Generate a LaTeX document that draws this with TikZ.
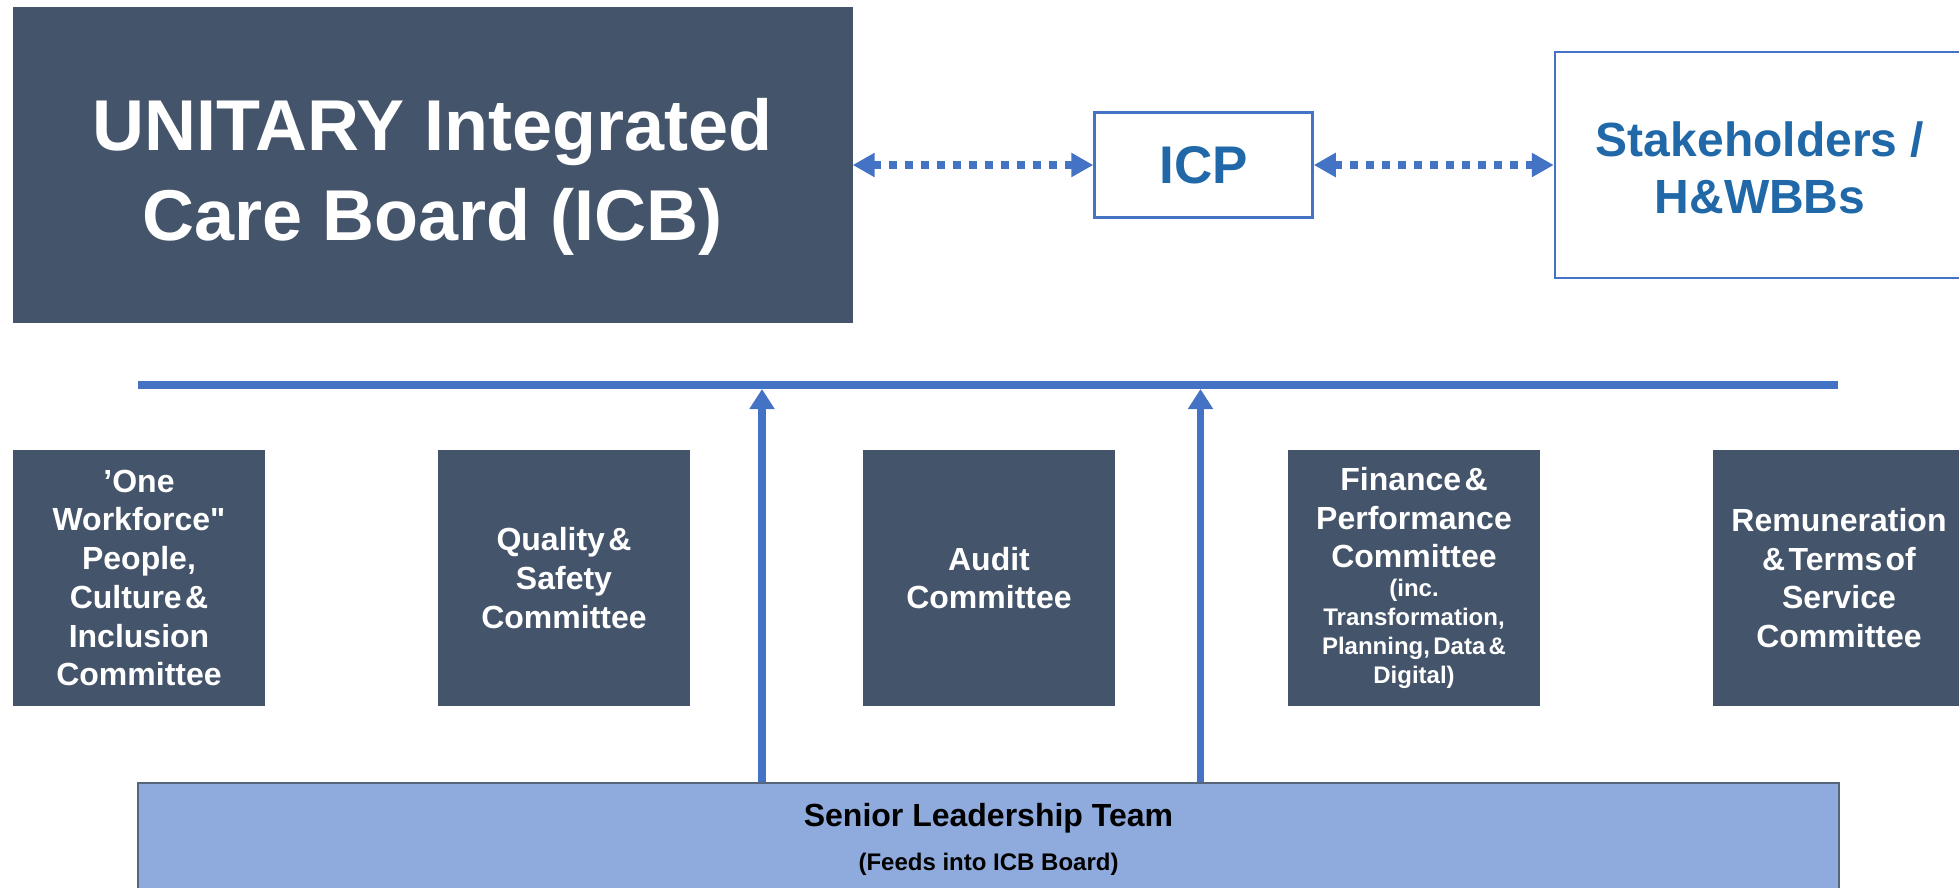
\documentclass[tikz,border=0pt]{standalone}
\usepackage{fontspec}
\setmainfont{Liberation Sans}[Ligatures=TeXOff]
\usetikzlibrary{arrows.meta}
\definecolor{boxdark}{HTML}{44546A}
\definecolor{lineblue}{HTML}{4472C4}
\definecolor{icptext}{HTML}{2068A8}
\definecolor{sltfill}{HTML}{8FAADC}
\definecolor{sltedge}{HTML}{56657A}
\tikzset{
  darkbox/.style={fill=boxdark, draw=none, inner sep=0pt, text=white, align=center},
  combox/.style={darkbox, minimum width=252pt, minimum height=256pt, text width=244pt},
  bluebox/.style={draw=lineblue, line width=2.5pt, fill=white, inner sep=0pt, text=icptext, align=center},
  dotarrow/.style={draw=lineblue, line width=7.6pt, dash pattern=on 8pt off 8pt, {Triangle[length=22pt,width=23pt]}-{Triangle[length=22pt,width=23pt]}},
  uparrow/.style={draw=lineblue, line width=7.3pt, -{Triangle[length=20pt,width=24pt]}},
  bar/.style={draw=lineblue, line width=8pt}
}
\begin{document}
\begin{tikzpicture}[x=1pt,y=-1pt]
\useasboundingbox (0,0) rectangle (1959,887);
% ICB
\node[darkbox, minimum width=840pt, minimum height=316pt] (icb) at (432.5,165) {};
\node[text=white, align=center, inner sep=0pt, font=\bfseries\fontsize{72}{90}\selectfont] (icbtext) at (432.5,177)
  {UNITARY Integrated\\Care Board (ICB)};
% ICP
\node[bluebox, minimum width=218pt, minimum height=105pt, font=\bfseries\fontsize{53}{60}\selectfont] (icp) at (1203.5,165)
  {ICP};
% Stakeholders
\node[bluebox, minimum width=410pt, minimum height=226pt] (stake) at (1760,165) {};
\node[text=icptext, align=center, inner sep=0pt, font=\bfseries\fontsize{48}{57}\selectfont] (staketext) at (1760,168)
  {Stakeholders /\\H\&WBBs};
% dotted arrows
\draw[dotarrow] (icb.east) -- (icp.west);
\draw[dotarrow] (icp.east) -- (stake.west);
% committees
\node[combox] (c1) at (139,578)
  {\bfseries\fontsize{32}{38.7}\selectfont ’One\\Workforce"\\People,\\Culture \&\\Inclusion\\Committee\par};
\node[combox] (c2) at (564,578)
  {\bfseries\fontsize{32}{38.7}\selectfont Quality \&\\Safety\\Committee\par};
\node[combox] (c3) at (989,578)
  {\bfseries\fontsize{32}{38.7}\selectfont Audit\\Committee\par};
\node[combox] (c4) at (1414,578)
  {\bfseries\fontsize{32}{38.5}\selectfont Finance \&\\Performance\\Committee\par
   \fontsize{24}{29}\selectfont (inc.\\Transformation,\\Planning, Data \&\\Digital)\par};
\node[combox] (c5) at (1839,578)
  {\bfseries\fontsize{32}{38.7}\selectfont Remuneration\\\& Terms of\\Service\\Committee\par};
% senior leadership team
\node[fill=sltfill, draw=sltedge, line width=2pt, minimum width=1701pt, minimum height=200pt, inner sep=0pt] (slt) at (988.5,883) {};
\node[font=\bfseries\fontsize{32}{38}\selectfont, inner sep=0pt] (sltA) at (988.5,818) {Senior Leadership Team};
\node[font=\bfseries\fontsize{24}{29}\selectfont, inner sep=0pt] (sltB) at (988.5,864) {(Feeds into ICB Board)};
% bar
\coordinate (barL) at (138,385);
\coordinate (barR) at (1838,385);
\draw[bar] (barL) -- (barR);
% up arrows
\coordinate (a1) at (762,389);
\coordinate (a2) at (1200.5,389);
\draw[uparrow] (slt.north -| a1) -- (a1);
\draw[uparrow] (slt.north -| a2) -- (a2);
\end{tikzpicture}
\end{document}
